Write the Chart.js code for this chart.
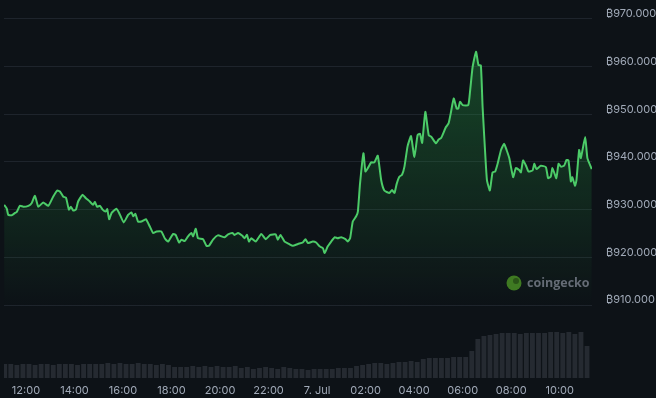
<!DOCTYPE html>
<html>
<head>
<meta charset="utf-8">
<script src="https://cdn.jsdelivr.net/npm/chart.js@4/dist/chart.umd.min.js"></script>
<style>
  html, body { margin: 0; padding: 0; background: #0d1217; }
  #wrap { width: 656px; height: 398px; position: relative; }
</style>
</head>
<body>
<div id="wrap"><canvas id="priceChart"></canvas></div>
<script>
// Hours relative to 12:00 on 6 Jul (0 = 12:00, 12 = 00:00 on 7 Jul)
const priceHours = [
  -0.9,-0.79,-0.73,-0.59,-0.45,-0.38,-0.25,-0.11,0.1,0.24,0.37,0.51,0.71,0.92,
  1.12,1.29,1.4,1.54,1.65,1.77,1.85,1.95,2.06,2.15,2.33,2.47,2.63,2.77,2.84,2.93,
  3.05,3.16,3.29,3.35,3.43,3.53,3.73,3.84,4.03,4.21,4.35,4.42,4.51,4.62,4.76,4.94,5.1,
  5.24,5.38,5.58,5.72,5.86,6.06,6.17,6.31,6.41,6.54,6.68,6.82,6.89,7.0,7.09,7.3,7.44,7.54,7.71,7.91,
  8.19,8.33,8.51,8.6,8.74,8.92,9.01,9.11,9.19,9.29,9.47,9.7,9.88,10.07,10.29,10.38,10.49,10.66,10.84,11.0,
  11.21,11.41,11.52,11.62,11.82,11.96,12.1,12.24,12.31,12.44,12.58,12.72,12.85,12.99,13.17,13.26,13.36,
  13.47,13.61,13.68,13.77,13.91,13.99,14.09,14.23,14.36,14.5,14.64,14.77,14.98,15.09,15.19,15.28,15.39,15.5,15.6,15.73,
  15.87,16.01,16.14,16.24,16.33,16.46,16.6,16.7,16.9,17.01,17.11,17.31,17.42,17.52,17.63,17.75,17.82,17.89,18.0,18.23,
  18.31,18.41,18.55,18.65,18.75,18.82,18.92,19.0,19.12,19.23,19.34,19.44,19.58,19.71,19.81,19.92,20.08,20.19,20.33,20.4,
  20.49,20.61,20.71,20.88,20.95,21.04,21.22,21.43,21.52,21.63,21.7,21.86,21.95,22.05,22.18,22.28,22.36,22.46,22.52,22.63,
  22.69,22.8,22.87,23.05,23.14,23.32
];
const prices = [
  931000,930200,928900,928800,929300,929500,930800,930600,930800,931400,932900,930600,931500,930800,
  932700,934000,933800,932700,932500,930000,930600,929800,930000,931700,933100,932400,931700,931000,931600,930600,
  930800,930000,929600,930100,928000,929300,930200,929300,927300,928900,929400,928600,929100,927500,927500,928000,926500,
  925100,925400,925400,924000,923300,924900,924700,923100,923700,923400,924400,925100,924400,926000,924000,923800,922400,922400,923700,924600,
  924200,924800,925100,924700,925100,924500,924000,924700,923300,924000,923300,924900,923800,924700,924800,923700,924700,923300,922800,922400,
  922800,923100,923800,923000,923300,923100,922300,921900,920900,922300,923300,924200,924000,924200,923800,923300,924000,
  927500,928600,929600,935500,941800,938000,938700,939900,939900,941300,936200,934000,933500,934100,933500,935400,936900,937300,939000,943300,
  945400,941000,945600,945900,944000,950500,945600,945300,943900,944700,945000,947300,948100,950500,953300,951200,951200,952600,951900,951900,
  955100,959900,963100,960300,960200,951600,942500,936200,934000,937800,938000,939600,942500,943800,942500,940800,936800,938700,938300,937800,
  940300,939200,938000,938200,939600,938500,939200,938900,936600,936900,938700,936600,939600,939000,939200,940400,940300,935900,936800,935000,
  936200,942500,940800,945200,940800,938500
];

// Volume bars, one every 15 minutes starting 11:07
const volStart = -0.875;
const volStep = 0.25;
const volumes = [
  14,14,13,14,14,13,14,14,13,14,14,14,13,14,14,14,
  14,15,14,15,14,14,15,14,14,
  13,14,13,11,11,
  11,12,11,12,11,12,11,11,12,
  10,11,9,10,11,10,9,11,10,
  9,9,8,9,9,
  9,9,10,10,10,
  12,13,14,15,15,
  14,15,16,16,17,16,
  19,20,20,20,
  20,21,21,21,
  27,39,42,43,
  44,45,45,45,44,45,45,45,
  45,46,46,45,46,44,46,32
];

const xTicks = [0, 2, 4, 6, 8, 10, 12, 14, 16, 18, 20, 22];
const yTicks = [910000, 920000, 930000, 940000, 950000, 960000, 970000];

const pricePoints = priceHours.map((h, i) => ({ x: h, y: prices[i] }));
const volPoints = volumes.map((v, i) => ({ x: volStart + i * volStep, y: v }));

function hourLabel(h) {
  const hh = (12 + h) % 24;
  if (hh === 0) return '7. Jul';
  return String(hh).padStart(2, '0') + ':00';
}

function priceLabel(v) {
  return '\u20BF' + (v / 1000).toFixed(3);
}

// watermark in the lower right of the chart
const watermark = {
  id: 'watermark',
  afterDatasetsDraw(chart) {
    const ctx = chart.ctx;
    ctx.save();
    ctx.beginPath();
    ctx.arc(514, 283, 7.5, 0, Math.PI * 2);
    ctx.fillStyle = '#3f7a22';
    ctx.fill();
    ctx.beginPath();
    ctx.arc(516, 281, 3, 0, Math.PI * 2);
    ctx.fillStyle = '#2a5418';
    ctx.fill();
    ctx.font = 'bold 12.5px "Open Sans", sans-serif';
    ctx.fillStyle = '#656c76';
    ctx.textBaseline = 'middle';
    ctx.fillText('coingecko', 527, 283);
    ctx.restore();
  }
};

const ctx = document.getElementById('priceChart').getContext('2d');
new Chart(ctx, {
  data: {
    datasets: [{
      type: 'line',
      label: 'Price',
      data: pricePoints,
      yAxisID: 'y',
      borderColor: '#4ccb68',
      borderWidth: 2,
      pointRadius: 0,
      tension: 0.15,
      fill: 'start',
      backgroundColor: function(context) {
        const area = context.chart.chartArea;
        if (!area) return 'rgba(0,0,0,0)';
        const g = context.chart.ctx.createLinearGradient(0, area.top + 40, 0, area.bottom - 70);
        g.addColorStop(0, 'rgba(40,160,70,0.38)');
        g.addColorStop(1, 'rgba(40,160,70,0)');
        return g;
      },
      order: 1
    }, {
      type: 'bar',
      label: 'Volume',
      data: volPoints,
      yAxisID: 'yv',
      backgroundColor: '#252a31',
      barPercentage: 1,
      categoryPercentage: 0.8,
      order: 2
    }]
  },
  options: {
    responsive: true,
    maintainAspectRatio: false,
    animation: false,
    layout: { padding: { left: 4, top: 4, right: 0, bottom: 0 } },
    plugins: {
      legend: { display: false },
      tooltip: { enabled: false }
    },
    scales: {
      x: {
        type: 'linear',
        offset: false,
        min: -0.905,
        max: 23.33,
        afterBuildTicks: function(scale) {
          scale.ticks = xTicks.map(v => ({ value: v }));
        },
        afterFit: function(scale) {
          scale.height = 20;
          scale.paddingLeft = 0;
          scale.paddingRight = 0;
        },
        grid: { display: false, drawTicks: false, offset: false },
        border: { display: false },
        ticks: {
          color: '#a1aab8',
          font: { family: 'Inter', size: 11 },
          padding: 6,
          maxRotation: 0,
          autoSkip: false,
          callback: function(v) { return hourLabel(v); }
        }
      },
      y: {
        position: 'right',
        min: 894700,
        max: 973100,
        afterBuildTicks: function(scale) {
          scale.ticks = yTicks.map(v => ({ value: v }));
        },
        afterFit: function(scale) {
          scale.width = 64;
          scale.paddingTop = 0;
          scale.paddingBottom = 0;
        },
        grid: { color: '#1e242c', drawTicks: false },
        border: { display: false },
        ticks: {
          color: '#a1aab8',
          font: { family: 'Inter', size: 11 },
          padding: 14,
          labelOffset: -5,
          callback: function(v) { return priceLabel(v); }
        }
      },
      yv: {
        display: false,
        min: 0,
        max: 374
      }
    }
  },
  plugins: [watermark]
});
</script>
</body>
</html>
